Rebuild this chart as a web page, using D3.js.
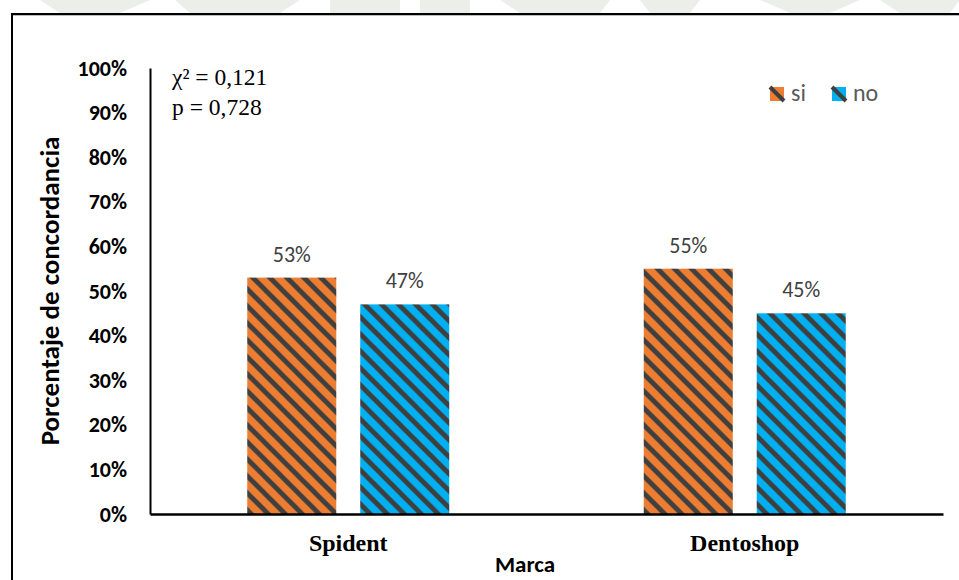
<!DOCTYPE html>
<html>
<head>
<meta charset="utf-8">
<script src="https://cdn.jsdelivr.net/npm/d3@7"></script>
<style>
  html, body { margin: 0; padding: 0; background: #fff; }
  svg { display: block; }
</style>
</head>
<body>
<svg id="chart"></svg>
<script>
const categories = ["Spident", "Dentoshop"];
const seriesNames = ["si", "no"];
const siValues = [0.53, 0.55];
const noValues = [0.47, 0.45];
const yTicks = [0, 0.1, 0.2, 0.3, 0.4, 0.5, 0.6, 0.7, 0.8, 0.9, 1.0];
const statLines = ["χ² = 0,121", "p = 0,728"];

const width = 959;
const height = 580;
const marginTop = 68;
const marginRight = 16;
const marginBottom = 66;
const marginLeft = 150;

const sans = "Carlito, Lato, 'Liberation Sans', sans-serif";
const serif = "'Liberation Serif', 'DejaVu Serif', serif";

const colors = { si: "#ED7D31", no: "#00B0F0" };
const stripe = "#3f3f3f";

const data = categories.map((c, i) => ({ cat: c, si: siValues[i], no: noValues[i] }));

const groupWidth = 202;

const x = d3.scaleBand()
    .domain(categories)
    .range([marginLeft, width - marginRight]);

const xs = d3.scaleBand()
    .domain(seriesNames)
    .range([0, groupWidth])
    .paddingInner(0.212);

const y = d3.scaleLinear()
    .domain([0, 1])
    .range([height - marginBottom, marginTop]);

const svg = d3.select("#chart")
    .attr("width", width)
    .attr("height", height)
    .attr("viewBox", [0, 0, width, height]);

// faint watermark strip at the top of the scan
const wm = svg.append("g").attr("fill", "#ebeee9");
[[40, 0, 150, 0, 120, 13, 60, 13], [175, 0, 300, 0, 280, 13, 190, 13],
 [330, 0, 400, 0, 400, 13, 330, 13], [420, 0, 470, 0, 470, 13, 420, 13],
 [500, 0, 610, 0, 600, 13, 520, 13], [640, 0, 700, 0, 690, 13, 650, 13],
 [760, 0, 860, 0, 830, 13, 790, 13], [880, 0, 960, 0, 950, 13, 900, 13]]
  .forEach(p => {
    wm.append("polygon").attr("points", d3.range(0, p.length, 2).map(i => p[i] + "," + p[i + 1]).join(" "));
  });

// outer frame (open at right and bottom)
svg.append("rect").attr("x", 12).attr("y", 14).attr("width", width).attr("height", height)
    .attr("fill", "#fff");
svg.append("path")
    .attr("d", `M12,${height} L12,14 L${width},14`)
    .attr("fill", "none")
    .attr("stroke", "#000")
    .attr("stroke-width", 2);
svg.append("line").attr("x1", 13).attr("x2", width).attr("y1", 15.5).attr("y2", 15.5)
    .attr("stroke", "#bbb").attr("stroke-width", 1);

// stripe patterns
const defs = svg.append("defs");
const P = 17;
seriesNames.forEach(s => {
  const pat = defs.append("pattern")
      .attr("id", "pat-" + s)
      .attr("patternUnits", "userSpaceOnUse")
      .attr("width", P)
      .attr("height", P);
  pat.append("rect").attr("width", P).attr("height", P).attr("fill", colors[s]);
  pat.append("path")
      .attr("d", `M-5,-5 L${P + 5},${P + 5} M-5,${P - 5} L5,${P + 5} M${P - 5},-5 L${P + 5},5`)
      .attr("stroke", stripe)
      .attr("stroke-width", 4.8);
});

// bars
const groups = svg.append("g")
  .selectAll("g")
  .data(data)
  .join("g")
    .attr("transform", d => `translate(${x(d.cat) + (x.bandwidth() - groupWidth) / 2},0)`);

groups.selectAll("rect")
  .data(d => seriesNames.map(s => ({ s, v: d[s] })))
  .join("rect")
    .attr("x", d => xs(d.s))
    .attr("y", d => y(d.v))
    .attr("width", xs.bandwidth())
    .attr("height", d => y(0) - y(d.v))
    .attr("fill", d => `url(#pat-${d.s})`);

groups.selectAll("text")
  .data(d => seriesNames.map(s => ({ s, v: d[s] })))
  .join("text")
    .attr("x", d => xs(d.s) + xs.bandwidth() / 2)
    .attr("y", d => y(d.v) - 16)
    .attr("text-anchor", "middle")
    .attr("fill", "#404040")
    .style("font", `22px ${sans}`)
    .text(d => d3.format(".0%")(d.v));

// y axis
const gy = svg.append("g")
    .attr("transform", `translate(${marginLeft},0)`)
    .call(d3.axisLeft(y).tickValues(yTicks).tickFormat(d3.format(".0%")).tickSize(0).tickPadding(23));
gy.select(".domain").attr("stroke", "#000").attr("stroke-width", 2);
gy.selectAll(".tick text")
    .attr("fill", "#000")
    .style("font", `bold 22px ${sans}`);

// x axis
const gx = svg.append("g")
    .attr("transform", `translate(0,${height - marginBottom})`)
    .call(d3.axisBottom(x).tickSize(0).tickPadding(20));
gx.select(".domain").attr("stroke", "#000").attr("stroke-width", 2.5);
gx.selectAll(".tick text")
    .attr("fill", "#000")
    .style("font", `bold 24px ${serif}`);

// axis titles
svg.append("text")
    .attr("transform", `translate(59,${(y(0) + y(1)) / 2}) rotate(-90)`)
    .attr("text-anchor", "middle")
    .attr("fill", "#000")
    .style("font", `bold 27px ${sans}`)
    .text("Porcentaje de concordancia");

svg.append("text")
    .attr("x", 525)
    .attr("y", 572)
    .attr("text-anchor", "middle")
    .attr("fill", "#000")
    .style("font", `bold 23px ${sans}`)
    .text("Marca");

// statistics
svg.append("g").selectAll("text")
  .data(statLines)
  .join("text")
    .attr("x", 172)
    .attr("y", (d, i) => 85 + i * 30)
    .attr("fill", "#000")
    .style("font", `23.5px ${serif}`)
    .text(d => d);

// legend
const legendX = [770, 832];
const legend = svg.append("g").selectAll("g")
  .data(seriesNames)
  .join("g")
    .attr("transform", (d, i) => `translate(${legendX[i]},87)`);
legend.append("rect")
    .attr("width", 14).attr("height", 14)
    .attr("fill", d => colors[d]);
legend.append("path")
    .attr("d", "M0,0 L14,14")
    .attr("stroke", stripe)
    .attr("stroke-width", 4);
legend.append("text")
    .attr("x", 21)
    .attr("y", 14)
    .attr("fill", "#595959")
    .style("font", `24px ${sans}`)
    .text(d => d);
</script>
</body>
</html>
